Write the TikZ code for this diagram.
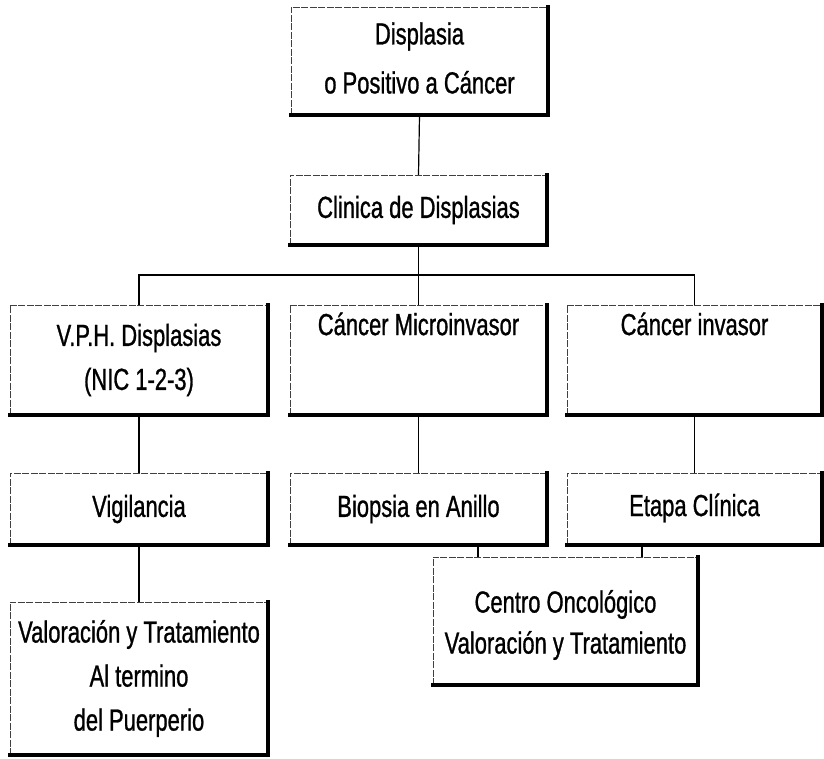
\documentclass[tikz,border=0pt]{standalone}
\usepackage{fontspec}
\setmainfont[FakeStretch=0.72,FakeBold=0.9]{Liberation Sans}
\begin{document}
\begin{tikzpicture}[x=1pt,y=-1pt,
  box/.style={inner sep=0pt, minimum width=257pt},
  txt/.style={inner sep=0pt, align=center, font=\fontsize{30.5}{44}\selectfont},
  thinedge/.style={line width=0.6pt, dash pattern=on 7pt off 1.5pt, black!75},
  heavyedge/.style={line width=3.5pt, line cap=rect},
  link/.style={line width=1.2pt}]
\useasboundingbox (0,0) rectangle (824,758);

% boxes, each with its caption set as a centred label
\node[box, minimum height=108pt,
  label={[txt, font=\fontsize{30.5}{49}\selectfont, yshift=3pt]center:{Displasia\\o Positivo a Cáncer}}]
  (top) at (419.5,61) {};
\node[box, minimum height=70pt,
  label={[txt]center:{Clinica de Displasias}}]
  (clin) at (418.5,210) {};
\node[box, minimum height=110pt, minimum width=258pt,
  label={[txt]center:{V.P.H. Displasias\\(NIC 1-2-3)}}]
  (vph) at (139,360) {};
\node[box, minimum height=110pt,
  label={[txt, yshift=36pt]center:{Cáncer Microinvasor}}]
  (micro) at (418.5,360) {};
\node[box, minimum height=110pt, minimum width=255pt,
  label={[txt, yshift=36pt]center:{Cáncer invasor}}]
  (inv) at (694.5,360) {};
\node[box, minimum height=72pt, minimum width=258pt,
  label={[txt]center:{Vigilancia}}]
  (vig) at (139,509) {};
\node[box, minimum height=72pt,
  label={[txt]center:{Biopsia en Anillo}}]
  (bio) at (418.5,509) {};
\node[box, minimum height=72pt, minimum width=255pt,
  label={[txt, yshift=1pt]center:{Etapa Clínica}}]
  (eta) at (694.5,509) {};
\node[box, minimum height=153pt, minimum width=258pt,
  label={[txt]center:{Valoración y Tratamiento\\Al termino\\del Puerperio}}]
  (val) at (139,678.5) {};
\node[box, minimum height=128pt, minimum width=265pt,
  label={[txt, font=\fontsize{30.5}{41}\selectfont, yshift=-4pt]center:{Centro Oncológico\\Valoración y Tratamiento}}]
  (cen) at (565.5,621) {};

% box outlines: light top/left, heavy bottom/right
\foreach \n in {top,clin,vph,micro,inv,vig,bio,eta,val,cen}{
  \draw[thinedge] (\n.south west) |- (\n.north east);
  \draw[heavyedge] (\n.south west) -| (\n.north east);
}

% connectors
\coordinate (bus) at (416,275);
\coordinate (cA) at (478,0);
\coordinate (cB) at (642,0);
\draw[link] (top.south) -- (clin.north);
\draw[link] (clin.south) -- (clin.south |- bus);
\draw[link] (vph.north) |- (bus) -| (inv.north);
\draw[link] (micro.north) -- (micro.north |- bus);
\draw[link] (vph.south) -- (vig.north);
\draw[link] (micro.south) -- (bio.north);
\draw[link] (inv.south) -- (eta.north);
\draw[link] (vig.south) -- (val.north);
\draw[link] (bio.south -| cA) -- (cen.north -| cA);
\draw[link] (eta.south -| cB) -- (cen.north -| cB);
\end{tikzpicture}
\end{document}
